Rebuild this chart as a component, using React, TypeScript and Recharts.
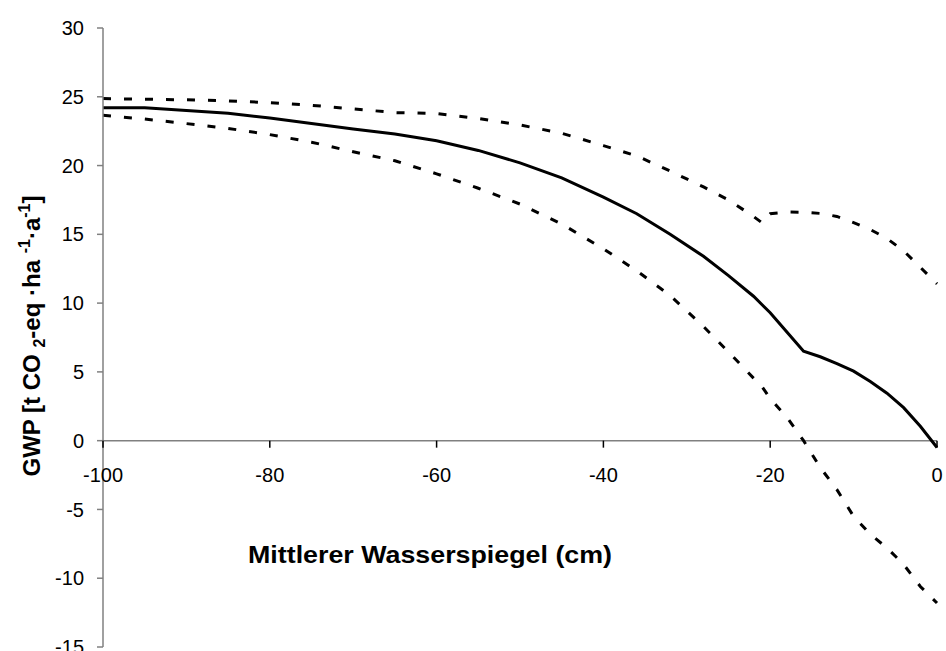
import { LineChart, Line, XAxis, YAxis, ReferenceLine, ReferenceDot } from 'recharts'

// Mittlerer Wasserspiegel (cm)
const depth = [-100, -95, -90, -85, -80, -75, -70, -65, -60, -55, -50, -45, -40, -36, -32, -28, -25, -22, -21, -20, -18, -16, -14, -12, -10, -8, -6, -4, -2, 0]

// GWP [t CO2-eq ha-1 a-1]
const gwpMean = [24.2, 24.2, 24.0, 23.8, 23.45, 23.05, 22.65, 22.3, 21.8, 21.1, 20.2, 19.1, 17.7, 16.5, 15.0, 13.4, 12.0, 10.5, 9.9, 9.3, 7.9, 6.5, 6.1, 5.6, 5.05, 4.3, 3.45, 2.4, 1.05, -0.5]
const gwpUpper = [24.87, 24.82, 24.78, 24.7, 24.57, 24.38, 24.12, 23.85, 23.78, 23.42, 22.95, 22.35, 21.45, 20.7, 19.6, 18.45, 17.5, 16.3, 15.85, 16.5, 16.62, 16.6, 16.52, 16.3, 15.85, 15.35, 14.7, 13.8, 12.6, 11.4]
const gwpLower = [23.65, 23.38, 23.05, 22.7, 22.25, 21.7, 21.0, 20.35, 19.4, 18.35, 17.2, 15.75, 13.95, 12.35, 10.55, 8.3, 6.45, 4.55, 3.95, 3.05, 1.7, 0.0, -1.95, -3.56, -5.5, -6.8, -7.8, -9.0, -10.6, -11.8]

const xTicks = [-100, -80, -60, -40, -20, 0]
const yTicks = [-15, -10, -5, 0, 5, 10, 15, 20, 25, 30]

const data = depth.map((d, i) => ({ depth: d, mean: gwpMean[i], upper: gwpUpper[i], lower: gwpLower[i] }))

const font = '"Liberation Sans", Arial, sans-serif'

function XTick(props: any) {
  const { cx, cy, label } = props
  return (
    <g>
      <line x1={cx} y1={cy} x2={cx} y2={cy + 7} stroke="#000" strokeWidth={1.5} />
      <text x={cx} y={cy + 41} textAnchor="middle" fontSize={20} fontFamily={font} fill="#000">{label}</text>
    </g>
  )
}

export default function App() {
  return (
    <div style={{ position: 'absolute', left: 0, top: 0, width: 946, height: 651, background: '#fff' }}>
      <LineChart width={946} height={651} data={data} margin={{ top: 28, right: 9, bottom: 4, left: 0 }}>
        <XAxis dataKey="depth" type="number" domain={[-100, 0]} ticks={xTicks} hide />
        <YAxis
          type="number"
          domain={[-15, 30]}
          ticks={yTicks}
          width={103}
          tickSize={6}
          tickMargin={13}
          axisLine={{ stroke: '#808080', strokeWidth: 1.5 }}
          tickLine={{ stroke: '#808080', strokeWidth: 1.5 }}
          tick={{ fill: '#000', fontSize: 20, fontFamily: font }}
          interval={0}
        />
        <ReferenceLine y={0} stroke="#808080" strokeWidth={1.5} />
        {xTicks.map((t) => (
          <ReferenceDot key={t} x={t} y={0} r={0} shape={(p: any) => <XTick {...p} label={String(t)} />} />
        ))}
        <Line dataKey="upper" stroke="#000" strokeWidth={3} strokeDasharray="8 13" dot={false} type="linear" isAnimationActive={false} />
        <Line dataKey="lower" stroke="#000" strokeWidth={3} strokeDasharray="8 13" dot={false} type="linear" isAnimationActive={false} />
        <Line dataKey="mean" stroke="#000" strokeWidth={3} dot={false} type="linear" isAnimationActive={false} />
      </LineChart>
      <svg width={946} height={651} style={{ position: 'absolute', left: 0, top: 0, pointerEvents: 'none' }}>
        <text x={430} y={563} textAnchor="middle" fontSize={24} fontWeight="bold" fontFamily={font} fill="#000" textLength={364} lengthAdjust="spacingAndGlyphs">
          Mittlerer Wasserspiegel (cm)
        </text>
        <text transform="translate(40,336) rotate(-90)" textAnchor="middle" fontSize={24} fontWeight="bold" fontFamily={font} fill="#000">
          GWP [t CO <tspan fontSize={16} dy={5}>2</tspan>
          <tspan dy={-5}>-eq ·ha </tspan>
          <tspan fontSize={16} dy={-10}>-1</tspan>
          <tspan dy={10}>·a</tspan>
          <tspan fontSize={16} dy={-10}>-1</tspan>
          <tspan dy={10}>]</tspan>
        </text>
      </svg>
    </div>
  )
}
